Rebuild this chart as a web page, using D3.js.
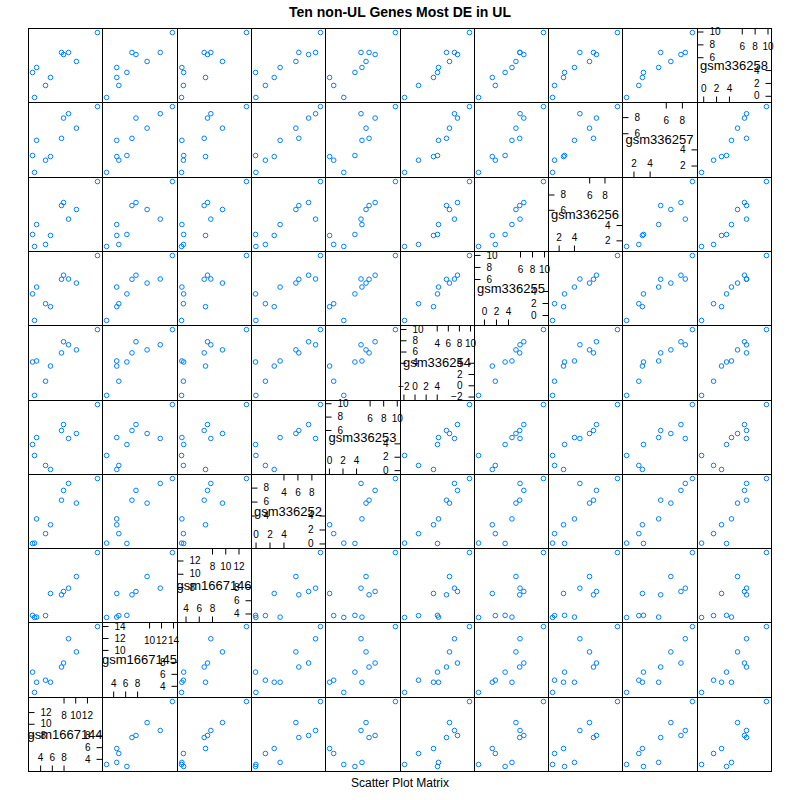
<!DOCTYPE html>
<html><head><meta charset="utf-8">
<script src="https://cdn.jsdelivr.net/npm/d3@7"></script>
<style>body{margin:0;background:#fff}</style>
</head><body>
<svg id="chart" width="800" height="800"></svg>
<script>
// Variables (samples), bottom-left to top-right of the matrix
const sampleNames = ["gsm1667144","gsm1667145","gsm1667146","gsm336252","gsm336253",
                     "gsm336254","gsm336255","gsm336256","gsm336257","gsm336258"];
// One value per gene (10 genes) for each sample
const gsm1667144 = [13.8, 7.65, 8.85, 8.0, 10.2, 3.39, 2.7, 5.77, 4.92, 3.04];
const gsm1667145 = [13.9, 7.14, 11.87, 7.81, 9.67, 4.59, 6.29, 4.6, 4.94, 2.9];
const gsm1667146 = [13.2, 6.82, 7.82, 7.32, 9.58, 3.45, 3.72, 7.02, 3.68, 3.4];
const gsm336252  = [9.3, 6.2, 8.6, 7.6, 5.78, 3.52, 0.0, 2.68, 1.41, 0.05];
const gsm336253  = [9.8, 5.92, 4.73, 6.81, 5.47, 4.87, 3.83, 0.1, 0.7, 2.19];
const gsm336254  = [9.9, 5.76, 7.2, 7.74, 6.3, 4.32, 4.14, 3.42, 0.72, -1.8];
const gsm336255  = [9.9, 5.95, 6.0, 6.63, 5.32, 4.66, 3.52, 1.39, 1.89, -0.9];
const gsm336256  = [9.7, 6.56, 4.78, 6.95, 6.04, 4.07, 2.77, 2.64, 1.46, 1.2];
const gsm336257  = [9.3, 5.37, 8.42, 7.88, 6.63, 5.12, 3.24, 3.11, 2.66, 1.15];
const gsm336258  = [9.84, 6.74, 6.74, 6.42, 5.34, 4.40, 3.63, 2.85, 1.61, -0.26];
// Diagonal panel tick labels: lower half (bottom/right) and upper half (top/left)
const ticksLower = [[4,6,8],[4,6,8],[4,6,8],[0,2,4],[0,2,4],[-2,0,2,4],[0,2,4],[2,4],[2,4],[0,2,4]];
const ticksUpper = [[8,10,12],[10,12,14],[8,10,12],[4,6,8],[6,8,10],[4,6,8,10],[6,8,10],[6,8],[6,8],[6,8,10]];
const titleText = "Ten non-UL Genes Most DE in UL";
const xLabelText = "Scatter Plot Matrix";

const columns = [gsm1667144, gsm1667145, gsm1667146, gsm336252, gsm336253,
                 gsm336254, gsm336255, gsm336256, gsm336257, gsm336258];

const svg = d3.select("#chart");
const font = "'Liberation Sans', Arial, Helvetica, sans-serif";
svg.append("rect").attr("width", 800).attr("height", 800).attr("fill", "#fff");

const N = sampleNames.length, gridLeft = 28, gridTop = 28, cell = 74.3;
const edgeX = i => Math.round(gridLeft + cell * i);
const edgeY = i => Math.round(gridTop + cell * i);

const domains = columns.map(vals => {
  const [lo, hi] = d3.extent(vals);
  const pad = 0.07 * (hi - lo);
  return [lo - pad, hi + pad];
});

for (let r = 0; r < N; r++) {        // r: row index counted from the bottom (y variable)
  for (let c = 0; c < N; c++) {      // c: column index (x variable)
    const x0 = edgeX(c), x1 = edgeX(c + 1);
    const yT = edgeY(N - 1 - r), yB = edgeY(N - r);
    const xs = d3.scaleLinear().domain(domains[c]).range([x0, x1]);
    const ys = d3.scaleLinear().domain(domains[r]).range([yB, yT]);
    const g = svg.append("g");
    if (r === c) {
      const fmt = d3.format("d");
      const styleAxis = sel => {
        sel.select(".domain").remove();
        sel.selectAll("line").attr("stroke", "#000");
        sel.selectAll("text").attr("fill", "#000").attr("font-family", font).attr("font-size", 10);
      };
      g.append("g").attr("transform", `translate(${x0 + 0.5},0)`)
        .call(d3.axisRight(ys).tickValues(ticksUpper[c]).tickFormat(fmt).tickSize(6).tickPadding(6))
        .call(styleAxis);
      g.append("g").attr("transform", `translate(0,${yT + 0.5})`)
        .call(d3.axisBottom(xs).tickValues(ticksUpper[c]).tickFormat(fmt).tickSize(6).tickPadding(8))
        .call(styleAxis);
      g.append("g").attr("transform", `translate(0,${yB + 0.5})`)
        .call(d3.axisTop(xs).tickValues(ticksLower[c]).tickFormat(fmt).tickSize(6).tickPadding(5))
        .call(styleAxis);
      g.append("g").attr("transform", `translate(${x1 + 0.5},0)`)
        .call(d3.axisLeft(ys).tickValues(ticksLower[c]).tickFormat(fmt).tickSize(6).tickPadding(6))
        .call(styleAxis);
      g.append("text").attr("x", (x0 + x1) / 2).attr("y", (yT + yB) / 2)
        .attr("text-anchor", "middle").attr("dy", "0.35em")
        .attr("font-family", font).attr("font-size", 13).attr("fill", "#000")
        .text(sampleNames[c]);
    } else {
      g.selectAll("circle").data(d3.range(columns[c].length)).join("circle")
        .attr("cx", k => xs(columns[c][k]))
        .attr("cy", k => ys(columns[r][k]))
        .attr("r", 2.3)
        .attr("fill", "none").attr("stroke", "#0080ff").attr("stroke-width", 1);
    }
    g.append("rect").attr("x", x0 + 0.5).attr("y", yT + 0.5)
      .attr("width", x1 - x0).attr("height", yB - yT)
      .attr("fill", "none").attr("stroke", "#000").attr("stroke-width", 1);
  }
}

svg.append("text").attr("x", 400).attr("y", 17).attr("text-anchor", "middle")
  .attr("font-family", font).attr("font-size", 14).attr("font-weight", "bold").attr("fill", "#000")
  .text(titleText);
svg.append("text").attr("x", 400).attr("y", 787).attr("text-anchor", "middle")
  .attr("font-family", font).attr("font-size", 12).attr("fill", "#000")
  .text(xLabelText);
</script>
</body></html>
